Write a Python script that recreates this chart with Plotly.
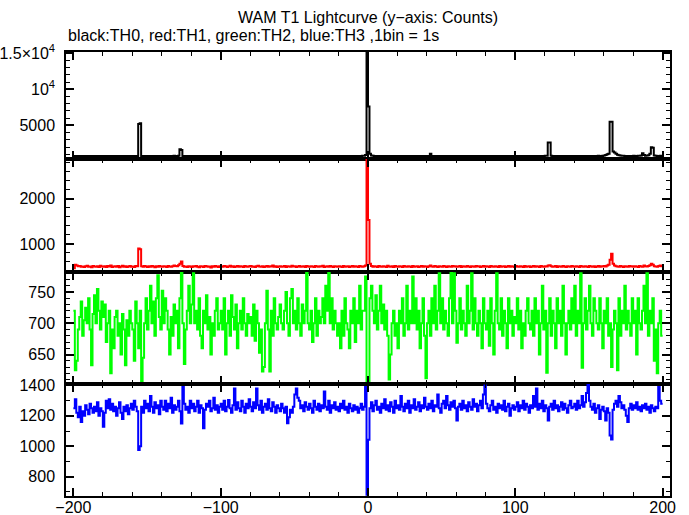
import plotly.graph_objects as go
from plotly.subplots import make_subplots

# ---------------- data (1 s bins, bin start times) ----------------
time_s = list(range(-200, 200))

th0_black = [
    770, 790, 760, 780, 775, 765, 780, 770, 760, 775, 785, 770, 765, 780, 770, 760, 790, 775, 770, 765,
    780, 770, 760, 785, 775, 770, 765, 780, 770, 790, 760, 775, 780, 770, 765, 780, 775, 760, 770, 785,
    770, 775, 760, 780, 5200, 5300, 790, 770, 765, 780, 775, 770, 760, 785, 770, 775, 765, 780, 770, 760,
    775, 780, 770, 765, 780, 790, 775, 770, 800, 790, 780, 820, 1700, 1600, 790, 775, 770, 780, 765, 770,
    780, 770, 765, 775, 780, 770, 760, 785, 775, 770, 780, 765, 770, 775, 780, 770, 765, 785, 770, 775,
    770, 780, 765, 775, 770, 785, 760, 775, 780, 770, 765, 780, 775, 770, 790, 765, 775, 770, 780, 770,
    775, 765, 780, 770, 775, 785, 770, 760, 780, 775, 770, 765, 780, 790, 770, 775, 765, 780, 770, 775,
    780, 770, 765, 775, 785, 770, 780, 765, 775, 770, 780, 760, 775, 785, 770, 765, 780, 775, 770, 780,
    770, 775, 765, 780, 770, 785, 775, 760, 780, 770, 775, 765, 780, 770, 785, 775, 770, 765, 780, 775,
    770, 780, 765, 775, 785, 770, 760, 780, 775, 770, 765, 780, 775, 770, 790, 780, 800, 820, 900, 15300,
    7600, 1100, 850, 800, 790, 780, 775, 770, 785, 770, 765, 780, 775, 770, 780, 765, 775, 780, 770, 775,
    780, 770, 765, 775, 785, 770, 780, 765, 775, 770, 780, 775, 765, 780, 770, 775, 785, 770, 765, 780,
    775, 780, 1100, 790, 770, 775, 765, 780, 770, 785, 775, 770, 780, 765, 775, 770, 780, 775, 765, 780,
    770, 775, 785, 770, 765, 780, 775, 770, 780, 765, 775, 785, 770, 780, 775, 765, 770, 780, 775, 770,
    785, 770, 775, 780, 765, 775, 770, 780, 775, 785, 770, 765, 780, 775, 770, 780, 765, 775, 785, 770,
    775, 780, 770, 765, 780, 775, 785, 770, 775, 780, 765, 770, 780, 775, 770, 785, 775, 765, 780, 790,
    800, 820, 2650, 2650, 810, 790, 780, 770, 775, 785, 770, 765, 780, 775, 770, 780, 785, 770, 775, 780,
    770, 775, 780, 765, 775, 780, 770, 785, 775, 770, 780, 765, 775, 790, 780, 775, 800, 780, 790, 810,
    830, 900, 1000, 1100, 5500, 5500, 1400, 1250, 1100, 950, 880, 840, 810, 800, 790, 780, 775, 785, 780, 790,
    800, 790, 780, 800, 820, 850, 1150, 900, 820, 850, 880, 1100, 2000, 1900, 850, 800, 790, 780, 800, 790,
]

th1_red = [
    460, 540, 520, 505, 510, 495, 500, 490, 505, 515, 495, 500, 485, 510, 500, 495, 505, 490, 515, 500,
    495, 505, 490, 510, 500, 520, 490, 500, 505, 495, 510, 485, 500, 515, 495, 505, 490, 500, 510, 495,
    500, 490, 510, 505, 900, 880, 505, 495, 510, 500, 490, 505, 495, 510, 500, 485, 505, 495, 510, 500,
    495, 505, 500, 490, 510, 500, 495, 505, 520, 510, 505, 525, 560, 610, 510, 495, 500, 490, 505, 500,
    490, 505, 500, 510, 495, 485, 505, 500, 490, 510, 505, 495, 500, 480, 505, 495, 510, 500, 490, 505,
    500, 495, 510, 505, 490, 500, 515, 495, 505, 490, 500, 510, 495, 505, 500, 490, 510, 500, 495, 505,
    510, 495, 500, 490, 505, 515, 500, 495, 505, 490, 500, 510, 495, 505, 500, 520, 495, 505, 490, 500,
    505, 495, 500, 510, 490, 505, 500, 495, 515, 500, 505, 490, 500, 510, 495, 500, 505, 490, 510, 500,
    495, 505, 500, 490, 510, 500, 495, 505, 500, 515, 490, 500, 505, 495, 510, 500, 490, 505, 500, 495,
    505, 500, 490, 510, 495, 500, 505, 490, 500, 510, 495, 505, 500, 490, 510, 500, 495, 505, 520, 2900,
    1530, 560, 510, 495, 505, 500, 490, 510, 500, 495, 505, 500, 490, 515, 500, 495, 505, 490, 510, 500,
    495, 505, 500, 490, 510, 500, 495, 505, 500, 490, 510, 495, 500, 505, 490, 500, 510, 495, 505, 500,
    490, 505, 520, 500, 495, 510, 500, 490, 505, 500, 495, 510, 500, 490, 505, 500, 495, 510, 500, 505,
    495, 500, 510, 490, 505, 500, 495, 510, 500, 490, 505, 500, 495, 510, 500, 505, 490, 500, 510, 495,
    505, 500, 490, 510, 500, 495, 505, 500, 490, 510, 495, 500, 505, 490, 500, 510, 495, 505, 500, 490,
    510, 500, 495, 505, 500, 490, 510, 495, 500, 505, 490, 500, 510, 495, 505, 500, 490, 510, 500, 495,
    505, 500, 520, 530, 505, 495, 500, 510, 490, 505, 500, 495, 510, 500, 490, 505, 500, 495, 510, 500,
    495, 505, 500, 490, 510, 500, 495, 505, 500, 490, 510, 500, 495, 505, 490, 500, 510, 495, 505, 500,
    510, 500, 520, 540, 650, 780, 560, 520, 505, 500, 495, 510, 500, 490, 505, 500, 495, 510, 500, 505,
    495, 505, 500, 490, 510, 500, 495, 520, 505, 500, 510, 530, 560, 540, 505, 500, 495, 510, 520, 505,
]

th2_green = [
    720, 625, 640, 690, 710, 735, 680, 705, 725, 700, 740, 690, 633, 715, 745, 700, 755, 720, 690, 735,
    710, 730, 670, 700, 720, 620, 690, 660, 710, 720, 680, 700, 650, 715, 690, 633, 705, 680, 720, 700,
    690, 640, 735, 700, 660, 720, 606, 645, 700, 740, 690, 720, 760, 700, 735, 680, 740, 777, 710, 690,
    752, 700, 740, 720, 690, 650, 710, 680, 730, 700, 720, 660, 740, 782, 700, 635, 690, 720, 760, 700,
    730, 780, 700, 720, 690, 740, 680, 660, 720, 700, 745, 690, 710, 650, 700, 680, 720, 740, 690, 700,
    720, 690, 740, 650, 700, 720, 680, 745, 710, 690, 730, 660, 700, 720, 690, 740, 700, 680, 715, 700,
    710, 680, 730, 672, 720, 700, 653, 690, 623, 630, 700, 752, 690, 623, 720, 680, 740, 700, 690, 710,
    730, 700, 690, 720, 750, 700, 680, 740, 755, 700, 720, 690, 740, 700, 680, 730, 700, 720, 782, 700,
    690, 720, 670, 700, 740, 680, 720, 700, 710, 740, 700, 760, 720, 782, 700, 740, 690, 720, 700, 680,
    700, 660, 720, 680, 740, 700, 690, 660, 720, 700, 740, 670, 720, 700, 760, 690, 720, 720, 775, 590,
    600, 740, 760, 720, 700, 745, 690, 720, 760, 700, 730, 690, 720, 680, 610, 650, 700, 720, 680, 700,
    660, 720, 700, 740, 680, 700, 760, 690, 720, 700, 775, 700, 740, 690, 720, 660, 700, 740, 680, 612,
    700, 720, 680, 740, 700, 760, 690, 720, 780, 700, 740, 690, 720, 700, 680, 740, 782, 700, 780, 720,
    669, 700, 740, 690, 720, 700, 680, 760, 700, 720, 780, 690, 740, 700, 680, 720, 700, 660, 740, 700,
    690, 720, 664, 740, 700, 650, 720, 780, 700, 690, 740, 680, 720, 700, 660, 740, 700, 720, 680, 710,
    700, 740, 690, 720, 660, 700, 680, 720, 740, 700, 690, 720, 680, 740, 700, 720, 650, 700, 760, 690,
    720, 621, 700, 740, 680, 720, 700, 660, 740, 700, 720, 680, 760, 700, 650, 700, 720, 690, 740, 700,
    760, 680, 720, 700, 780, 629, 700, 740, 690, 720, 760, 700, 680, 740, 720, 700, 690, 740, 700, 660,
    720, 700, 740, 680, 700, 630, 690, 720, 700, 625, 740, 680, 720, 700, 760, 690, 720, 700, 680, 740,
    700, 720, 650, 740, 700, 690, 720, 760, 700, 780, 680, 720, 700, 740, 640, 690, 620, 700, 720, 680,
]

th3_blue = [
    1250, 1310, 1220, 1190, 1260, 1160, 1230, 1200, 1270, 1240, 1210, 1280, 1250, 1220, 1260, 1230, 1290, 1200, 1250, 1230,
    1128, 1220, 1300, 1250, 1310, 1240, 1280, 1230, 1260, 1200, 1250, 1290, 1220, 1180, 1260, 1230, 1270, 1210, 1250, 1280,
    1240, 1300, 1260, 1230, 975, 1000, 1260, 1220, 1300, 1250, 1280, 1230, 1330, 1260, 1220, 1290, 1250, 1270, 1210, 1300,
    1260, 1240, 1300, 1230, 1280, 1250, 1320, 1220, 1270, 1240, 1260, 1300, 1230, 1150, 1390, 1280, 1240, 1260, 1220, 1300,
    1250, 1280, 1230, 1260, 1300, 1220, 1270, 1250, 1118, 1240, 1280, 1260, 1300, 1230, 1250, 1320, 1240, 1270, 1220, 1260,
    1280, 1240, 1300, 1230, 1260, 1305, 1250, 1220, 1270, 1380, 1240, 1290, 1250, 1230, 1300, 1260, 1220, 1280, 1250, 1310,
    1260, 1230, 1290, 1250, 1380, 1270, 1240, 1300, 1220, 1260, 1280, 1240, 1310, 1250, 1230, 1290, 1260, 1220, 1270, 1250,
    1230, 1280, 1250, 1220, 1260, 1152, 1190, 1240, 1220, 1260, 1340, 1380, 1320, 1300, 1250, 1270, 1230, 1290, 1260, 1240,
    1280, 1250, 1220, 1300, 1260, 1240, 1280, 1230, 1270, 1250, 1360, 1260, 1240, 1300, 1220, 1270, 1250, 1290, 1240, 1260,
    1230, 1280, 1250, 1300, 1240, 1260, 1220, 1280, 1250, 1230, 1270, 1240, 1260, 1220, 1250, 1280, 1240, 1260, 1390, 680,
    1043, 1250, 1290, 1230, 1270, 1300, 1240, 1260, 1220, 1280, 1250, 1310, 1240, 1270, 1230, 1290, 1260, 1220, 1300, 1250,
    1270, 1240, 1330, 1260, 1230, 1280, 1250, 1300, 1220, 1270, 1250, 1310, 1240, 1260, 1290, 1230, 1270, 1250, 1320, 1260,
    1240, 1280, 1250, 1300, 1230, 1270, 1260, 1340, 1250, 1220, 1280, 1300, 1250, 1330, 1270, 1240, 1290, 1260, 1300, 1250,
    1170, 1260, 1280, 1240, 1300, 1250, 1270, 1230, 1290, 1260, 1240, 1310, 1260, 1280, 1230, 1270, 1300, 1250, 1340, 1400,
    1280, 1250, 1230, 1270, 1300, 1240, 1260, 1220, 1280, 1250, 1270, 1240, 1300, 1230, 1260, 1280, 1200, 1250, 1270, 1240,
    1260, 1290, 1230, 1270, 1250, 1300, 1240, 1280, 1260, 1220, 1270, 1250, 1330, 1260, 1380, 1240, 1280, 1250, 1300, 1230,
    1270, 1250, 1170, 1260, 1280, 1240, 1300, 1250, 1270, 1230, 1260, 1290, 1240, 1280, 1250, 1220, 1270, 1300, 1250, 1260,
    1280, 1240, 1300, 1250, 1270, 1330, 1260, 1290, 1350, 1410, 1300, 1260, 1240, 1280, 1220, 1250, 1270, 1180, 1240, 1260,
    1230, 1170, 1250, 1220, 1070, 1045, 1240, 1280, 1300, 1260, 1330, 1290, 1250, 1270, 1240, 1200, 1160, 1250, 1280, 1240,
    1270, 1250, 1290, 1240, 1260, 1230, 1270, 1250, 1280, 1240, 1260, 1220, 1270, 1250, 1230, 1260, 1250, 1390, 1300, 1280,
]

series = [
    ("TH0", th0_black, "#000000"),
    ("TH1", th1_red, "#ff0000"),
    ("TH2", th2_green, "#00ff00"),
    ("TH3", th3_blue, "#0000ff"),
]

y_ranges = [[360, 15150], [378, 2880], [603, 782], [672, 1410]]
y_tickvals = [[5000, 10000, 15000], [1000, 2000], [650, 700, 750], [800, 1000, 1200, 1400]]
y_ticktext = [["5000", "10<sup>4</sup>", "1.5×10<sup>4</sup>"], ["1000", "2000"],
              ["650", "700", "750"], ["800", "1000", "1200", "1400"]]
y_minor = [1000, 200, 10, 100]
x_range = [-205, 205]

title_text = "WAM T1 Lightcurve (y\u2212axis: Counts)"
subtitle_text = "black:TH0, red:TH1, green:TH2, blue:TH3 ,1bin = 1s"

# ---------------- figure ----------------
FONT = "Liberation Sans, Arial, Helvetica, sans-serif"
fig = make_subplots(rows=4, cols=1, shared_xaxes=True, vertical_spacing=0)

edges = time_s + [time_s[-1] + 1]
for i, (name, vals, col) in enumerate(series):
    fig.add_trace(go.Scatter(x=edges, y=vals + [vals[-1]], mode="lines", name=name,
                             line=dict(color=col, width=2, shape="hv")),
                  row=i + 1, col=1)

# panel domains (paper fraction, bottom to top)
domains = [[0.759, 1.0], [0.5045, 0.759], [0.2523, 0.5045], [0.0, 0.2523]]

for i in range(4):
    r = i + 1
    fig.update_xaxes(row=r, col=1, range=x_range, showline=True, linecolor="black",
                     linewidth=1.5, mirror="allticks", ticks="inside", tick0=0, dtick=100,
                     ticklen=8, tickwidth=1.5, tickcolor="black", showgrid=False, zeroline=False,
                     minor=dict(dtick=20, tick0=0, ticks="inside", ticklen=4, tickwidth=1.2,
                                tickcolor="black", showgrid=False),
                     showticklabels=(r == 4), automargin=False,
                     ticklabelstandoff=-4,
                     tickfont=dict(family=FONT, size=16, color="black"))
    fig.update_yaxes(row=r, col=1, range=y_ranges[i], domain=domains[i], showline=True,
                     linecolor="black", linewidth=1.5, mirror="allticks", ticks="inside",
                     tickvals=y_tickvals[i], ticktext=y_ticktext[i], ticklen=8, tickwidth=1.5,
                     tickcolor="black", showgrid=False, zeroline=False,
                     minor=dict(dtick=y_minor[i], tick0=0, ticks="inside", ticklen=4,
                                tickwidth=1.2, tickcolor="black", showgrid=False),
                     ticklabelstandoff=6, automargin=False,
                     tickfont=dict(family=FONT, size=16, color="black"))

# extra bold tick marks every 40 s on each panel frame (overlay axes without labels)
bold_ticks = list(range(-200, 201, 40))
overlay_axes = {}
for i in range(4):
    r = i + 1
    xname = "x" if r == 1 else f"x{r}"
    yname = "y" if r == 1 else f"y{r}"
    overlay_axes[f"xaxis{4 + r}"] = dict(
        overlaying=xname, anchor=yname, side="bottom", range=x_range,
        tickvals=bold_ticks, ticks="inside", ticklen=5, tickwidth=2.6, tickcolor="black",
        showticklabels=False, showline=False, mirror="ticks", showgrid=False,
        zeroline=False, automargin=False, fixedrange=True)

fig.update_layout(
    width=689, height=515,
    margin=dict(l=66, r=19, t=52, b=19, autoexpand=False),
    paper_bgcolor="white", plot_bgcolor="white",
    showlegend=False,
    font=dict(family=FONT, size=16, color="black"),
    annotations=[
        dict(text=title_text, x=0.5, y=1.0788, xref="paper", yref="paper",
             xanchor="center", yanchor="middle", showarrow=False,
             font=dict(family=FONT, size=16, color="black")),
        dict(text=subtitle_text, x=0.0, y=1.038, xref="paper", yref="paper",
             xanchor="left", yanchor="middle", showarrow=False,
             font=dict(family=FONT, size=16, color="black")),
    ],
    **overlay_axes,
)

fig.write_html("out.html", config={"displayModeBar": False},
               post_script="document.body.style.margin='0px';document.body.style.overflow='hidden';")
